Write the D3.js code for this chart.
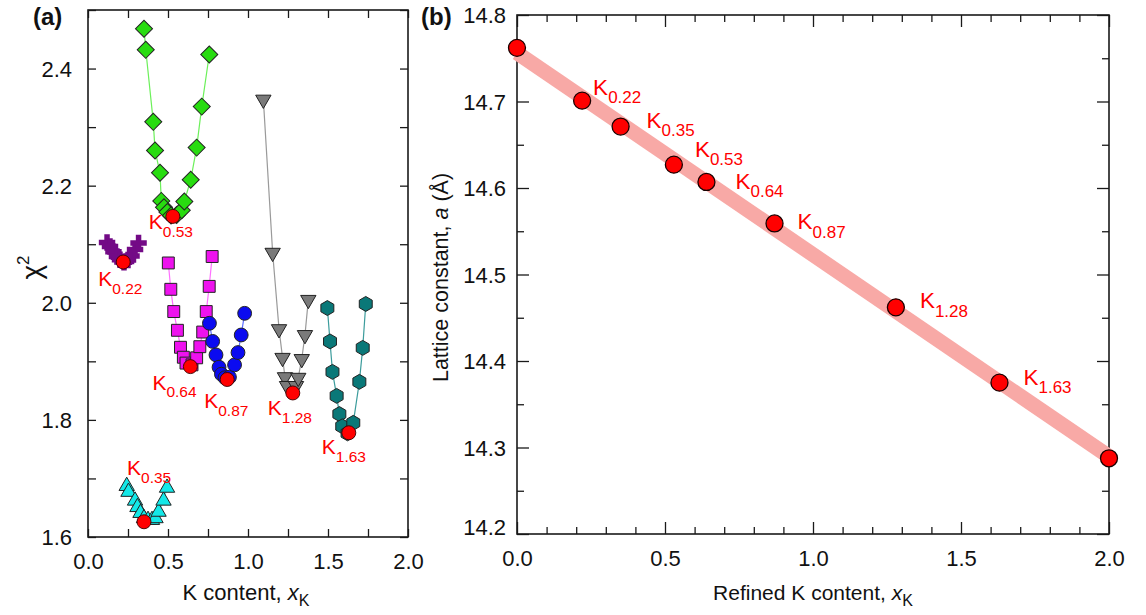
<!DOCTYPE html>
<html>
<head>
<meta charset="utf-8">
<script src="https://cdn.jsdelivr.net/npm/d3@7"></script>
<style>
  html, body { margin: 0; padding: 0; background: #fff; }
  svg { display: block; font-family: "Liberation Sans", Arial, sans-serif; }
</style>
</head>
<body>
<svg id="fig" width="1146" height="615"></svg>
<script>
// ---- Panel (a): chi-squared versus trial K content, one V per sample ----
const chiK022 = [[0.119,2.103],[0.1375,2.096],[0.159,2.087],[0.181,2.079],[0.200,2.0735],[0.225,2.069],[0.250,2.073],[0.272,2.080],[0.294,2.091],[0.316,2.102]];
const chiK035 = [[0.242,1.687],[0.253,1.677],[0.294,1.662],[0.309,1.651],[0.328,1.641],[0.350,1.632],[0.375,1.629],[0.400,1.629],[0.422,1.632],[0.441,1.643],[0.472,1.662],[0.494,1.684]];
const chiK053 = [[0.350,2.468],[0.361,2.432],[0.408,2.309],[0.419,2.260],[0.450,2.222],[0.458,2.174],[0.475,2.163],[0.496,2.155],[0.519,2.149],[0.554,2.150],[0.586,2.158],[0.602,2.173],[0.642,2.210],[0.679,2.265],[0.711,2.335],[0.758,2.424]];
const chiK064 = [[0.502,2.068],[0.5175,2.023],[0.536,1.985],[0.559,1.953],[0.578,1.924],[0.596,1.907],[0.6125,1.897],[0.650,1.894],[0.679,1.906],[0.699,1.925],[0.717,1.950],[0.739,1.985],[0.7575,2.028],[0.776,2.079]];
const chiK087 = [[0.759,1.965],[0.779,1.934],[0.800,1.911],[0.819,1.890],[0.834,1.878],[0.856,1.872],[0.884,1.873],[0.916,1.894],[0.9375,1.915],[0.9575,1.945],[0.979,1.982]];
const chiK128 = [[1.096,2.347],[1.154,2.0855],[1.194,1.955],[1.216,1.906],[1.231,1.873],[1.244,1.858],[1.300,1.858],[1.314,1.872],[1.336,1.904],[1.356,1.945],[1.377,2.005]];
const chiK163 = [[1.496,1.991],[1.5125,1.934],[1.528,1.882],[1.554,1.841],[1.571,1.810],[1.589,1.789],[1.622,1.777],[1.658,1.795],[1.696,1.865],[1.717,1.923],[1.736,1.998]];

// refined composition (minimum of each curve)
const minLabels = ["0.22","0.35","0.53","0.64","0.87","1.28","1.63"];
const minK      = [0.22, 0.35, 0.53, 0.64, 0.87, 1.28, 1.63];
const minChi    = [2.0696, 1.626, 2.1475, 1.891, 1.869, 1.846, 1.778];

// ---- Panel (b): lattice constant versus refined K content ----
const latticeK = [0.00, 0.22, 0.35, 0.53, 0.64, 0.87, 1.28, 1.63, 2.00];
const latticeA = [14.762, 14.701, 14.671, 14.627, 14.607, 14.559, 14.462, 14.375, 14.2875];
const latticeLabels = [null, "0.22","0.35","0.53","0.64","0.87","1.28","1.63", null];

const ticksA_x = ["0.0","0.5","1.0","1.5","2.0"];
const ticksA_y = ["1.6","1.8","2.0","2.2","2.4"];
const ticksB_x = ["0.0","0.5","1.0","1.5","2.0"];
const ticksB_y = ["14.2","14.3","14.4","14.5","14.6","14.7","14.8"];

// ---- layout ----
const svg = d3.select("#fig");
const boxA = {l: 88, r: 408, t: 10, b: 537};
const boxB = {l: 517, r: 1109, t: 15, b: 534};
const axisColor = "#1a1a1a";
const labelFont = 22;

const xA = d3.scaleLinear().domain([0, 2]).range([boxA.l, boxA.r]);
const yA = d3.scaleLinear().domain([1.6, 2.5]).range([boxA.b, boxA.t]);
const xB = d3.scaleLinear().domain([0, 2]).range([boxB.l, boxB.r]);
const yB = d3.scaleLinear().domain([14.2, 14.8]).range([boxB.b, boxB.t]);

const near = (v, list) => list.some(s => Math.abs(+s - v) < 1e-6);

function styleAxis(g) {
  g.select(".domain").remove();
  g.selectAll(".tick line").attr("stroke", axisColor).attr("stroke-width", 1.3);
  g.selectAll(".tick text").attr("fill", "#111").attr("font-size", labelFont)
    .attr("font-family", "'Liberation Sans', Arial, sans-serif");
}

// frame + ticks for a panel
function drawAxes(box, x, y, xTicks, yTicks, xLabels, yLabels, xMajor, yMajor, minorLen, majorLen, yPad) {
  const bottom = svg.append("g").attr("transform", `translate(0,${box.b})`)
    .call(d3.axisBottom(x).tickValues(xTicks).tickSizeOuter(0).tickSizeInner(-minorLen).tickPadding(16)
      .tickFormat(d => near(d, xLabels) ? d3.format(".1f")(d) : ""));
  styleAxis(bottom);
  bottom.selectAll(".tick line").attr("y2", d => near(d, xMajor) ? -majorLen : -minorLen);

  const top = svg.append("g").attr("transform", `translate(0,${box.t})`)
    .call(d3.axisTop(x).tickValues(xTicks).tickSizeOuter(0).tickSizeInner(-minorLen).tickFormat(""));
  styleAxis(top);
  top.selectAll(".tick line").attr("y2", d => near(d, xMajor) ? majorLen : minorLen);

  const left = svg.append("g").attr("transform", `translate(${box.l},0)`)
    .call(d3.axisLeft(y).tickValues(yTicks).tickSizeOuter(0).tickSizeInner(-minorLen).tickPadding(yPad)
      .tickFormat(d => near(d, yLabels) ? d3.format(".1f")(d) : ""));
  styleAxis(left);
  left.selectAll(".tick line").attr("x2", d => near(d, yMajor) ? majorLen : minorLen);

  const right = svg.append("g").attr("transform", `translate(${box.r},0)`)
    .call(d3.axisRight(y).tickValues(yTicks).tickSizeOuter(0).tickSizeInner(-minorLen).tickFormat(""));
  styleAxis(right);
  right.selectAll(".tick line").attr("x2", d => near(d, yMajor) ? -majorLen : -minorLen);

  svg.append("rect").attr("x", box.l).attr("y", box.t)
    .attr("width", box.r - box.l).attr("height", box.b - box.t)
    .attr("fill", "none").attr("stroke", axisColor).attr("stroke-width", 1.6);
  return left;
}

const rangeStep = (a, b, s) => d3.range(Math.round((b - a) / s) + 1).map(i => +(a + i * s).toFixed(4));

// ---- Panel (a) axes ----
const leftA = drawAxes(boxA, xA, yA,
  rangeStep(0, 2, 0.25), rangeStep(1.6, 2.5, 0.1),
  ticksA_x, ticksA_y, rangeStep(0, 2, 0.25), rangeStep(1.6, 2.5, 0.1), 8, 8, 16);
leftA.selectAll(".tick text").attr("dy", "0.36em");

// ---- Panel (a) series ----
const hexagon = {
  draw(ctx, size) {
    const r = Math.sqrt(size / (1.5 * Math.sqrt(3)));
    for (let i = 0; i < 6; i++) {
      const a = Math.PI / 3 * i - Math.PI / 2;
      i === 0 ? ctx.moveTo(r * Math.cos(a), r * Math.sin(a)) : ctx.lineTo(r * Math.cos(a), r * Math.sin(a));
    }
    ctx.closePath();
  }
};

const seriesA = [
  {data: chiK053, fill: "#28dc10", line: "#6cf05a", type: d3.symbolSquare, size: 145, rot: 45, stroke: true},
  {data: chiK022, fill: "#730a86", line: "#730a86", type: d3.symbolCross,  size: 150, rot: 0,  stroke: false},
  {data: chiK064, fill: "#ee12ee", line: "#ff70ff", type: d3.symbolSquare, size: 142, rot: 0,  stroke: true},
  {data: chiK087, fill: "#0b0bf0", line: "#5a6cff", type: d3.symbolCircle, size: 150, rot: 0,  stroke: true},
  {data: chiK128, fill: "#7a7a7a", line: "#9a9a9a", type: d3.symbolTriangle, size: 102, rot: 180, stroke: true},
  {data: chiK163, fill: "#0a7878", line: "#3c9c9c", type: hexagon,        size: 145, rot: 0,  stroke: true},
  {data: chiK035, fill: "#14e8e8", line: "#70e0e0", type: d3.symbolTriangle, size: 102, rot: 0,  stroke: true}
];

const lineA = d3.line().x(d => xA(d[0])).y(d => yA(d[1]));
const gA = svg.append("g");
seriesA.forEach(s => {
  gA.append("path").attr("d", lineA(s.data)).attr("fill", "none")
    .attr("stroke", s.line).attr("stroke-width", 1.2);
  gA.append("g").selectAll("path").data(s.data).join("path")
    .attr("d", d3.symbol().type(s.type).size(s.size))
    .attr("transform", d => `translate(${xA(d[0])},${yA(d[1])}) rotate(${s.rot})`)
    .attr("fill", s.fill)
    .attr("stroke", s.stroke ? "#222" : "none")
    .attr("stroke-width", 1);
});

// minima markers
gA.append("g").selectAll("circle").data(minK).join("circle")
  .attr("cx", d => xA(d)).attr("cy", (d, i) => yA(minChi[i]))
  .attr("r", 7).attr("fill", "#ff0000").attr("stroke", "#3a0000").attr("stroke-width", 0.9);

// label offsets (dx, dy from the marker to the label baseline start)
const offsetsA = [[-25, 24], [-17, -47], [-24, 13], [-38, 23], [-23, 29], [-25, 22], [-27, 21]];

function kLabel(g, x, y, sub, kSize, subSize) {
  const t = g.append("text").attr("x", x).attr("y", y).attr("fill", "#ff0000")
    .attr("font-size", kSize);
  t.append("tspan").text("K");
  t.append("tspan").attr("font-size", subSize).attr("dy", subSize * 0.5).text(sub);
}
minK.forEach((k, i) => {
  kLabel(gA, xA(k) + offsetsA[i][0], yA(minChi[i]) + offsetsA[i][1], minLabels[i], 21, 15.5);
});

// ---- Panel (b) axes ----
const leftB = drawAxes(boxB, xB, yB,
  rangeStep(0, 2, 0.1), rangeStep(14.2, 14.8, 0.05),
  ticksB_x, ticksB_y, rangeStep(0, 2, 0.5), rangeStep(14.2, 14.8, 0.1), 7, 12, 11);
leftB.selectAll(".tick text").attr("dy", d => Math.abs(d - 14.2) < 1e-6 ? "0.0em" : "0.36em");

// ---- Panel (b) fit + points ----
const gB = svg.append("g");
const mx = d3.mean(latticeK), my = d3.mean(latticeA);
const slope = d3.sum(latticeK, (k, i) => (k - mx) * (latticeA[i] - my)) / d3.sum(latticeK, k => (k - mx) ** 2);
const intercept = my - slope * mx;
const fitEnds = d3.extent(latticeK);
gB.append("line")
  .attr("x1", xB(fitEnds[0])).attr("y1", yB(intercept + slope * fitEnds[0]))
  .attr("x2", xB(fitEnds[1])).attr("y2", yB(intercept + slope * fitEnds[1]))
  .attr("stroke", "#f8a9a6").attr("stroke-width", 15);

gB.append("g").selectAll("circle").data(latticeK).join("circle")
  .attr("cx", d => xB(d)).attr("cy", (d, i) => yB(latticeA[i]))
  .attr("r", 8.5).attr("fill", "#ff0000").attr("stroke", "#1a0000").attr("stroke-width", 1.3);

const offsetsB = [null, [11, -6], [26, 1], [21, -8], [29, 7], [23, 6], [24, 1], [24, 2], null];
latticeK.forEach((k, i) => {
  if (!latticeLabels[i]) return;
  kLabel(gB, xB(k) + offsetsB[i][0], yB(latticeA[i]) + offsetsB[i][1], latticeLabels[i], 22.5, 17);
});

// ---- titles ----
function xTitle(cx, y, prefix, size, subSize) {
  const t = svg.append("text").attr("x", cx).attr("y", y).attr("text-anchor", "middle")
    .attr("font-size", size).attr("fill", "#111");
  t.append("tspan").text(prefix);
  t.append("tspan").attr("font-style", "italic").text("x");
  t.append("tspan").attr("font-size", subSize).attr("dy", 6).text("K");
}
xTitle((boxA.l + boxA.r) / 2 - 2, 600, "K content, ", 22, 16);
xTitle((boxB.l + boxB.r) / 2, 600, "Refined K content, ", 21, 16);

const chi = svg.append("text")
  .attr("transform", `translate(41,${(boxA.t + boxA.b) / 2 - 6}) rotate(-90)`)
  .attr("text-anchor", "middle").attr("font-size", 28).attr("fill", "#111");
chi.append("tspan").text("\u03C7");
chi.append("tspan").attr("font-size", 17).attr("dy", -12).text("2");

const lat = svg.append("text")
  .attr("transform", `translate(448,${(boxB.t + boxB.b) / 2 + 3}) rotate(-90)`)
  .attr("text-anchor", "middle").attr("font-size", 21.5).attr("fill", "#111");
lat.append("tspan").text("Lattice constant, ");
lat.append("tspan").attr("font-style", "italic").text("a");
lat.append("tspan").text(" (\u00C5)");

svg.append("text").attr("x", 33).attr("y", 25).attr("font-size", 24).attr("font-weight", "bold")
  .attr("fill", "#111").text("(a)");
svg.append("text").attr("x", 421).attr("y", 25).attr("font-size", 24).attr("font-weight", "bold")
  .attr("fill", "#111").text("(b)");
</script>
</body>
</html>
